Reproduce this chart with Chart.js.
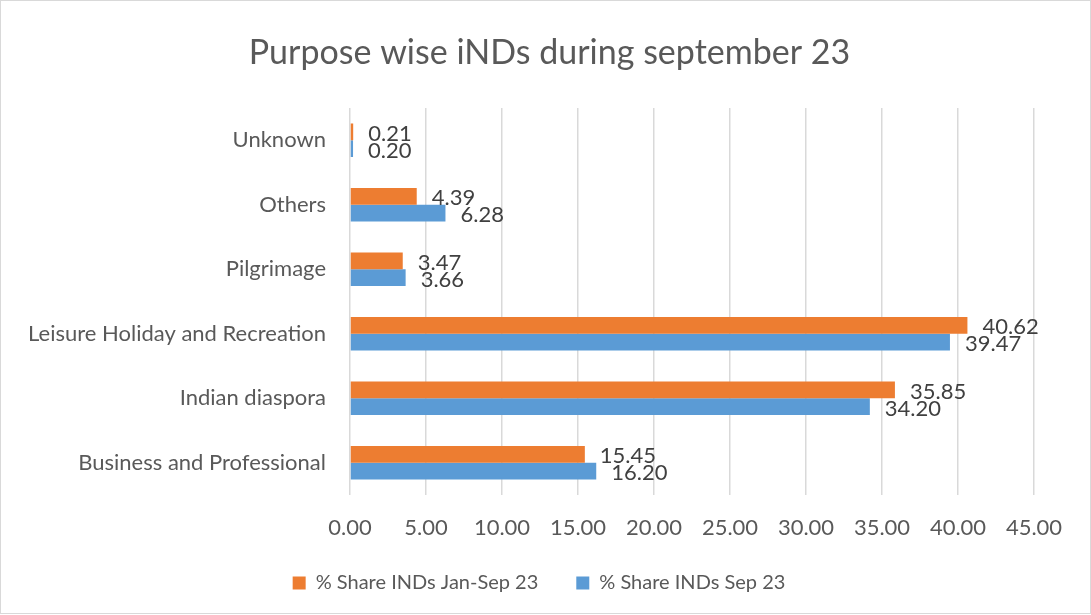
<!DOCTYPE html>
<html>
<head>
<meta charset="utf-8">
<script src="https://cdn.jsdelivr.net/npm/chart.js@4/dist/chart.umd.min.js"></script>
<style>
  html, body { margin: 0; padding: 0; background: #fff; }
  #wrap { width: 1091px; height: 615px; position: relative; }
</style>
</head>
<body>
<div id="wrap"><canvas id="barChart" width="1091" height="615"></canvas></div>
<script>
// categories, top to bottom
var categories = ["Unknown", "Others", "Pilgrimage", "Leisure Holiday and Recreation", "Indian diaspora", "Business and Professional"];

// series values
var shareJanSep = [0.21, 4.39, 3.47, 40.62, 35.85, 15.45];
var shareSep = [0.20, 6.28, 3.66, 39.47, 34.20, 16.20];

var seriesNames = ["% Share INDs Jan-Sep 23", "% Share INDs Sep 23"];
var chartTitle = "Purpose wise iNDs during september 23";
var xMax = 45;
var xStep = 5;

var fontFamily = "Lato, 'Open Sans', sans-serif";
var textGray = "#595959";

// value labels just right of each bar end
var valueLabels = {
    id: "valueLabels",
    afterDatasetsDraw: function(chart) {
        var ctx = chart.ctx;
        ctx.save();
        ctx.font = "22px " + fontFamily;
        ctx.fillStyle = "#404040";
        ctx.textAlign = "left";
        ctx.textBaseline = "middle";
        chart.data.datasets.forEach(function(ds, i) {
            var meta = chart.getDatasetMeta(i);
            meta.data.forEach(function(bar, j) {
                ctx.fillText(ds.data[j].toFixed(2), bar.x + 15, bar.y + 2);
            });
        });
        ctx.restore();
    }
};

// white background, light border and the title centred on the whole chart
var frameAndTitle = {
    id: "frameAndTitle",
    afterLayout: function(chart) {
        // nudge the legend a little right and up, as in the original
        if (chart.legend) {
            chart.legend.left += 9;
            chart.legend.right += 9;
            chart.legend.top -= 3;
            chart.legend.bottom -= 3;
        }
    },
    beforeDraw: function(chart) {
        var ctx = chart.ctx;
        ctx.save();
        ctx.fillStyle = "#fff";
        ctx.fillRect(0, 0, chart.width, chart.height);
        ctx.strokeStyle = "#d9d9d9";
        ctx.lineWidth = 1;
        ctx.strokeRect(0.5, 0.5, chart.width - 1, chart.height - 2);
        ctx.font = "34px " + fontFamily;
        ctx.fillStyle = textGray;
        ctx.textAlign = "center";
        ctx.textBaseline = "middle";
        ctx.fillText(chartTitle, chart.width / 2 + 4, 53);
        ctx.restore();
    }
};

var ctx = document.getElementById("barChart").getContext("2d");

var myChart = new Chart(ctx, {
    type: "bar",
    data: {
        labels: categories,
        datasets: [{
            label: seriesNames[0],
            data: shareJanSep,
            backgroundColor: "#ED7D31",
            borderWidth: 0,
            barPercentage: 1,
            categoryPercentage: 0.52
        }, {
            label: seriesNames[1],
            data: shareSep,
            backgroundColor: "#5B9BD5",
            borderWidth: 0,
            barPercentage: 1,
            categoryPercentage: 0.52
        }]
    },
    options: {
        indexAxis: "y",
        responsive: false,
        animation: false,
        layout: {
            padding: { left: 26, right: 57, top: 108, bottom: 9 }
        },
        plugins: {
            title: { display: false },
            legend: {
                position: "bottom",
                labels: {
                    color: textGray,
                    font: { family: fontFamily, size: 20 },
                    boxWidth: 13,
                    boxHeight: 13,
                    padding: 38
                }
            },
            tooltip: { enabled: false }
        },
        scales: {
            x: {
                min: 0,
                max: xMax,
                ticks: {
                    stepSize: xStep,
                    color: textGray,
                    font: { family: fontFamily, size: 22 },
                    padding: 20,
                    callback: function(v) { return Number(v).toFixed(2); }
                },
                grid: { color: "#d9d9d9", lineWidth: 1.5, drawTicks: false },
                border: { display: false },
                afterFit: function(scale) { scale.height = 43; }
            },
            y: {
                ticks: {
                    color: textGray,
                    font: { family: fontFamily, size: 22 },
                    padding: 16
                },
                grid: { display: false },
                border: { display: false },
                afterFit: function(scale) { scale.width = 324; }
            }
        }
    },
    plugins: [frameAndTitle, valueLabels]
});
</script>
</body>
</html>
